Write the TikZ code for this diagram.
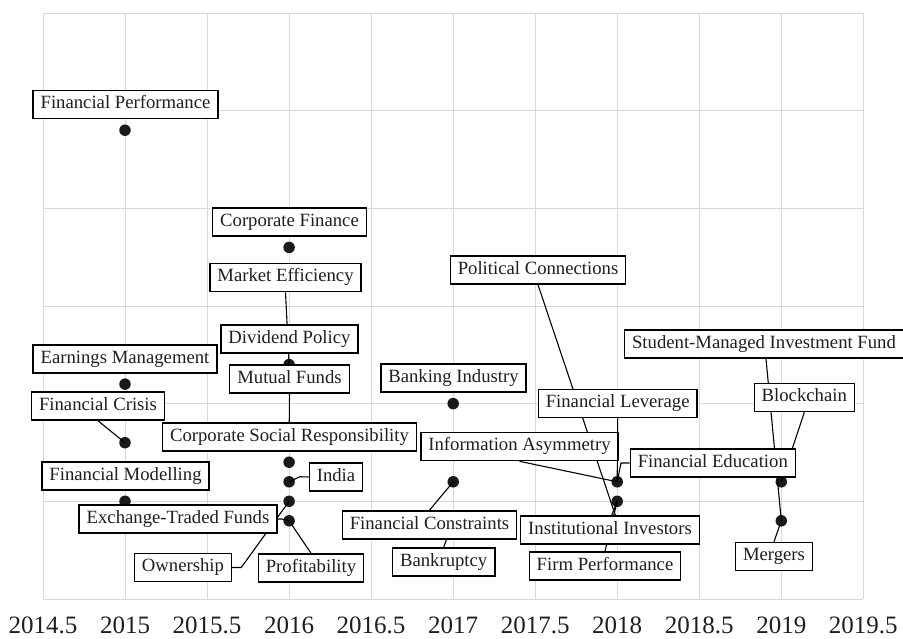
\documentclass[tikz,border=0pt]{standalone}
\usepackage{fontspec}
\setmainfont{Liberation Serif}
\definecolor{gridgray}{HTML}{D9D9D9}
\definecolor{dotcol}{HTML}{1A1A1A}
\definecolor{labeltext}{HTML}{1F1F1F}
\pgfdeclarelayer{gridlayer}
\pgfdeclarelayer{bglayer}
\pgfsetlayers{gridlayer,bglayer,main}
\begin{document}
\begin{tikzpicture}[x=1pt,y=-1pt,
  gridline/.style={draw=gridgray, line width=1pt},
  lbl/.style={draw=black, fill=white, line width=1.4pt, text=labeltext,
    font=\fontsize{18.7}{20}\selectfont, inner xsep=7.5pt, inner ysep=5.6pt,
    text height=12.8pt, text depth=4.2pt},
  dot/.style={circle, fill=dotcol, inner sep=0pt, minimum size=11.5pt},
  leader/.style={draw=black, line width=1.1pt},
  axlbl/.style={font=\fontsize{25}{28}\selectfont, text=labeltext, inner sep=0pt}
]
\useasboundingbox (0,0) rectangle (903,638);
\begin{pgfonlayer}{gridlayer}
  \foreach \i in {0,...,10} {\draw[gridline] ({43+82.03*\i},13) -- ({43+82.03*\i},599);}
  \foreach \j in {0,...,6} {\draw[gridline] (43,{13+97.67*\j}) -- (863.3,{13+97.67*\j});}
\end{pgfonlayer}

% axis labels
\node[axlbl] (t1) at (43,625) {2014.5};
\node[axlbl] (t2) at (125.0,625) {2015};
\node[axlbl] (t3) at (207.1,625) {2015.5};
\node[axlbl] (t4) at (289.1,625) {2016};
\node[axlbl] (t5) at (371.1,625) {2016.5};
\node[axlbl] (t6) at (453.2,625) {2017};
\node[axlbl] (t7) at (535.2,625) {2017.5};
\node[axlbl] (t8) at (617.2,625) {2018};
\node[axlbl] (t9) at (699.3,625) {2018.5};
\node[axlbl] (t10) at (781.3,625) {2019};
\node[axlbl] (t11) at (863.3,625) {2019.5};

% labels
\node[lbl] (finperf) at (125.5,104.5) {Financial Performance};
\node[lbl] (corpfin) at (289.5,222) {Corporate Finance};
\node[lbl] (mkteff) at (285.5,277.5) {Market Efficiency};
\node[lbl] (divpol) at (289.5,339) {Dividend Policy};
\node[lbl] (mutf) at (289.5,379) {Mutual Funds};
\node[lbl] (earn) at (125,359) {Earnings Management};
\node[lbl] (fcrisis) at (98,406) {Financial Crisis};
\node[lbl] (csr) at (289.5,437) {Corporate Social Responsibility};
\node[lbl] (fmod) at (125.5,476) {Financial Modelling};
\node[lbl] (india) at (336,477) {India};
\node[lbl] (etf) at (178,519) {Exchange-Traded Funds};
\node[lbl] (own) at (183,567.5) {Ownership};
\node[lbl] (prof) at (311,568) {Profitability};
\node[lbl] (bank) at (453.5,378) {Banking Industry};
\node[lbl] (fcon) at (429.5,525) {Financial Constraints};
\node[lbl] (bkr) at (443.7,562) {Bankruptcy};
\node[lbl] (polc) at (538,270) {Political Connections};
\node[lbl] (flev) at (617.7,403.5) {Financial Leverage};
\node[lbl] (iasym) at (519.5,446.5) {Information Asymmetry};
\node[lbl] (fedu) at (712.8,463) {Financial Education};
\node[lbl] (inst) at (610,530) {Institutional Investors};
\node[lbl] (firm) at (605,566) {Firm Performance};
\node[lbl] (smif) at (764,344) {Student-Managed Investment Fund};
\node[lbl] (block) at (804.3,397.5) {Blockchain};
\node[lbl] (merg) at (774,556.5) {Mergers};

\begin{pgfonlayer}{bglayer}
  % points
  \node[dot] (d1) at (125.0,130.2) {};
  \node[dot] (d2) at (289.1,247.4) {};
  \node[dot] (d3) at (289.1,364.6) {};
  \node[dot] (d4) at (125.0,384.1) {};
  \node[dot] (d5) at (125.0,442.7) {};
  \node[dot] (d6) at (289.1,462.2) {};
  \node[dot] (d7) at (125.0,501.3) {};
  \node[dot] (d8) at (289.1,481.8) {};
  \node[dot] (d9) at (289.1,501.3) {};
  \node[dot] (d10) at (289.1,520.8) {};
  \node[dot] (d11) at (453.2,403.6) {};
  \node[dot] (d12) at (453.2,481.8) {};
  \node[dot] (d13) at (617.2,481.8) {};
  \node[dot] (d14) at (617.2,501.3) {};
  \node[dot] (d15) at (781.3,481.8) {};
  \node[dot] (d16) at (781.3,520.8) {};
  \coordinate (h1) at (289.1,442.7);
  \coordinate (h2) at (453.2,520.8);
  \coordinate (h3) at (617.2,520.8);
  % leaders
  \draw[leader] (mkteff.south) -- (d3.center);
  \draw[leader] (mutf.south) -- (h1);
  \draw[leader] (fcrisis.south) -- (d5.center);
  \draw[leader] (d8.center) -- (300,476.7) -- (india.west);
  \draw[leader] (etf.east) -- ++(4,0) -- (d10.center);
  \draw[leader] (own.east) -- ++(9,0) -- (d9.center);
  \draw[leader] (prof.north) -- (d10.center);
  \draw[leader] (fcon.north) -- (d12.center);
  \draw[leader] (bkr.north) -- (h2);
  \draw[leader] (polc.south) -- (h3);
  \draw[leader] (flev.south) -- (d13.center);
  \draw[leader] (iasym.south) -- (d13.center);
  \draw[leader] (fedu.west) -- ++(-8.6,0) -- (d13.center);
  \draw[leader] ([xshift=1.7pt]inst.north) -- (d14.center);
  \draw[leader] (firm.north) -- (d14.center);
  \draw[leader] ([xshift=2pt]smif.south) -- (d16.center);
  \draw[leader] (block.south) -- (d15.center);
  \draw[leader] (merg.north) -- (d16.center);
\end{pgfonlayer}
\end{tikzpicture}
\end{document}
